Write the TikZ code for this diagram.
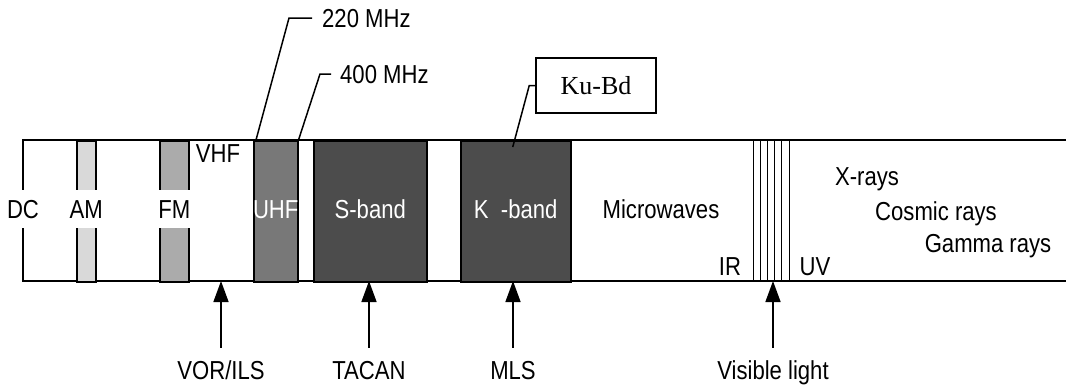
\documentclass[tikz,border=0pt]{standalone}
\usepackage{fontspec}
\setmainfont{Liberation Sans}[FakeStretch=0.85]
\newfontfamily\boxfont{Liberation Serif}
\usetikzlibrary{arrows.meta, positioning}

\definecolor{amgray}{gray}{0.85}
\definecolor{fmgray}{gray}{0.67}
\definecolor{uhfgray}{gray}{0.47}
\definecolor{bandgray}{gray}{0.30}

\begin{document}
\begin{tikzpicture}[x=1pt, y=-1pt,
    edge/.style={line width=1.5pt},
    bar/.style={draw, line width=1.5pt, inner sep=0pt, minimum height=141pt,
                anchor=north west},
    lbl/.style={font=\fontsize{26}{26}\selectfont, inner sep=0pt,
                text height=18.6pt, text depth=0pt},
    cut/.style={lbl, fill=white, inner xsep=1pt, inner ysep=10pt},
    wlbl/.style={lbl, text=white},
    arrow/.style={-{Triangle[length=21pt,width=15pt]}, line width=1.5pt,
                  shorten <=13pt},
    leader/.style={line width=1.5pt}
]
\useasboundingbox (0,0) rectangle (1066,388);

% spectrum strip
\coordinate (base) at (23,281);
\draw[edge] (1066,140) -- (23,140) -- (base) -- (1066,281);

% bands
\node[bar, fill=amgray,   minimum width=19pt]  (am)    at (76,140)  {};
\node[bar, fill=fmgray,   minimum width=29pt]  (fm)    at (159,140) {};
\node[bar, fill=uhfgray,  minimum width=44pt]  (uhf)   at (253,140) {};
\node[bar, fill=bandgray, minimum width=113pt] (sband) at (313,140) {};
\node[bar, fill=bandgray, minimum width=110pt] (kband) at (460,140) {};

% visible light
\foreach \i in {0,...,5}
  \draw[line width=1pt] (753+7.2*\i,140) -- (753+7.2*\i,281);

% labels in the strip
\node[cut] (dc) at (23,209) {DC};
\node[cut] (amlbl) at (am.center |- 0,209) {AM};
\node[cut] (fmlbl) at (fm.center |- 0,209) {FM};
\node[lbl] (vhf) at (218,153) {VHF};
\node[wlbl] (uhflbl) at (uhf.center |- 0,209) {UHF};
\node[wlbl] (slbl) at (sband.center |- 0,209) {S-band};
\node[wlbl] (klbl) at (kband.center |- 0,209) {K~~-band};
\node[lbl] (micro) at (661,209) {Microwaves};
\node[lbl] (ir) at (730,266) {IR};
\node[lbl] (uv) at (815,266) {UV};
\node[lbl] (xrays) at (867,176) {X-rays};
\node[lbl] (cosmic) at (936,211) {Cosmic rays};
\node[lbl] (gamma) at (988,243) {Gamma rays};

% frequency marks
\node[lbl, anchor=west] (f220) at (322,18) {220 MHz};
\node[lbl, anchor=west] (f400) at (340,74) {400 MHz};
\draw[leader] ([xshift=3pt]uhf.north west) -- ([xshift=-33pt]f220.west)
              -- ([xshift=-10pt]f220.west);
\draw[leader] (uhf.north east) -- ([xshift=-20pt]f400.west)
              -- ([xshift=-9pt]f400.west);

% Ku band box
\node[draw, line width=1.5pt, minimum width=120pt, minimum height=55pt,
      font=\boxfont\fontsize{26}{26}\selectfont] (kubd) at (596,85.5) {Ku-Bd};
\draw[leader] ([shift={(-3pt,-7pt)}]kband.north) -- ([xshift=-6pt]kubd.west)
              -- (kubd.west);

% systems below the strip
\node[lbl] (vorils) at (221,370) {VOR/ILS};
\node[lbl] (tacan)  at (369,370) {TACAN};
\node[lbl] (mls)    at (513,370) {MLS};
\node[lbl] (vis)    at (773,370) {Visible light};

\draw[arrow] (vorils.north) -- (vorils.north |- base);
\draw[arrow] (tacan.north)  -- (tacan.north |- base);
\draw[arrow] (mls.north)    -- (mls.north |- base);
\draw[arrow] (vis.north)    -- (vis.north |- base);
\end{tikzpicture}
\end{document}
